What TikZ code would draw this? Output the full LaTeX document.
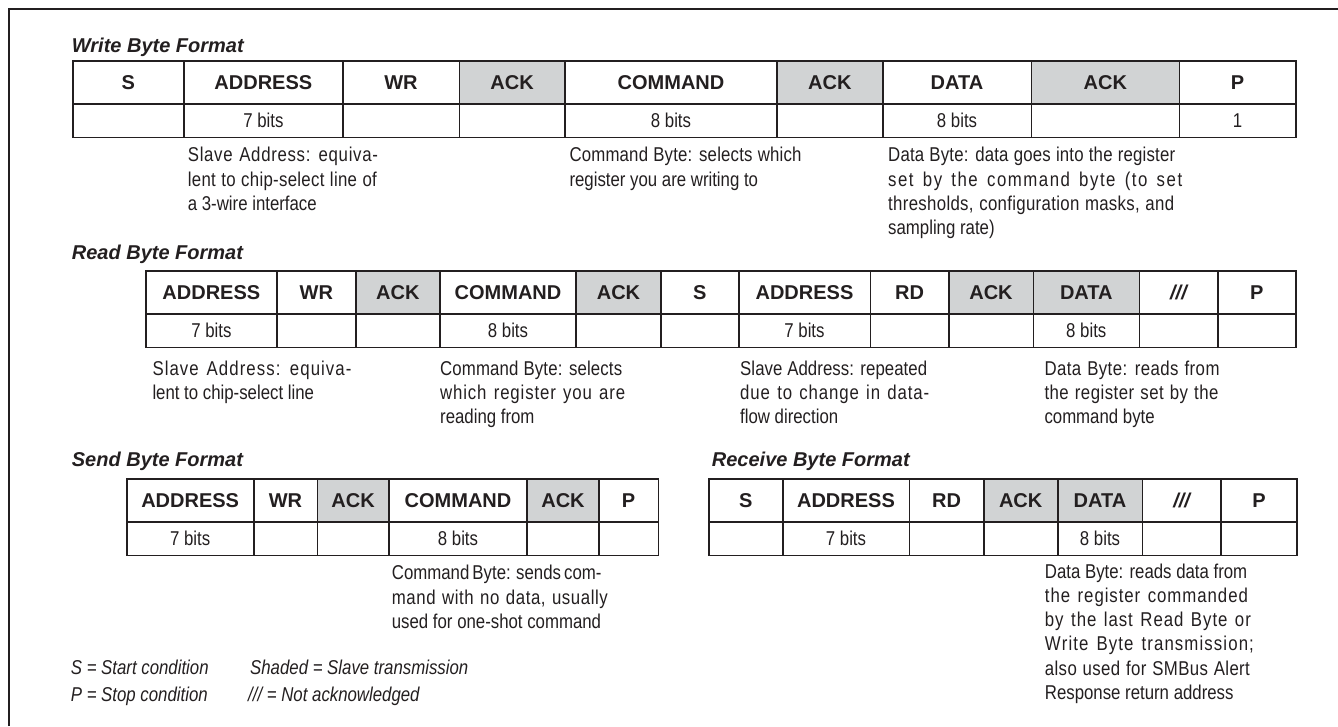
\documentclass[tikz,border=0pt]{standalone}
\usepackage{fontspec}
\setmainfont{Liberation Sans}
\newfontfamily\narfam[FakeStretch=0.84]{Liberation Sans}
\newcommand\narfont{\narfam\fontsize{20}{24.3}\selectfont}
\newcommand\hdrfont{\bfseries\fontsize{20}{24}\selectfont}
\newcommand\ttlfont{\bfseries\itshape\fontsize{20}{24}\selectfont}
\newcommand\lgfont{\narfam\itshape\fontsize{20}{24}\selectfont}
\newcommand\nack{\itshape ///}
\ExplSyntaxOn
\NewDocumentCommand\jl{mm}{
  \mode_leave_vertical:
  \hbox_to_wd:nn {#1pt} {
    \str_map_inline:nn {#2} {
      \str_if_eq:nnTF {##1} {~}
        { \c_space_tl \hskip 0pt plus 2fil \relax }
        { ##1 \hskip 0pt plus 1fil \relax }
    }
    \unskip
  }
}
\ExplSyntaxOff
\definecolor{ink}{HTML}{231F20}
\definecolor{shade}{HTML}{D1D3D4}
\newcommand\mkrow[4]{%
  \foreach \xa/\xb/\txt/\fl/\nm in {#4} {
    \node[#3, fill=\fl, minimum width={(\xb-\xa)*1pt}, minimum height={(#2-#1)*1pt}]
      (\nm) at ({(\xa+\xb)/2},{(#1+#2)/2}) {\txt};
  }}
\tikzset{
  hcell/.style={draw=ink, line width=1.6pt, inner sep=0pt, text=ink, font=\hdrfont, text height=14.5pt, text depth=0pt},
  bcell/.style={draw=ink, line width=1.6pt, inner sep=0pt, text=ink, font=\narfont, text height=14pt, text depth=0pt},
  ttl/.style={anchor=base west, inner sep=0pt, text=ink, font=\ttlfont},
  note/.style={anchor=base west, inner sep=0pt, text=ink, font=\narfont},
  lgd/.style={anchor=base west, inner sep=0pt, text=ink, font=\lgfont},
}
\begin{document}
\begin{tikzpicture}[x=1pt,y=-1pt]
\useasboundingbox (0,0) rectangle (1338,726);
\fill[white] (0,0) rectangle (1338,726);
\draw[ink, line width=2pt] (8.7,726) -- (8.7,8.7) -- (1338,8.7);

% ---------- Write Byte Format
\node[ttl] (tw) at (71.7,52.7) {Write Byte Format};
\mkrow{61}{104}{hcell}{72.7/184/S/white/w1, 184/342.7/ADDRESS/white/w2, 342.7/459.3/WR/white/w3,
  459.3/565/ACK/shade/w4, 565/777/COMMAND/white/w5, 777/882.7/ACK/shade/w6,
  882.7/1031.3/DATA/white/w7, 1031.3/1179.3/ACK/shade/w8, 1179.3/1296/P/white/w9}
\mkrow{104}{137.3}{bcell}{72.7/184//white/wb1, 184/342.7/7 bits/white/wb2, 342.7/459.3//white/wb3,
  459.3/565//white/wb4, 565/777/8 bits/white/wb5, 777/882.7//white/wb6,
  882.7/1031.3/8 bits/white/wb7, 1031.3/1179.3//white/wb8, 1179.3/1296/1/white/wb9}
\node[note] (wn1) at (187.7,161.7) {\parbox[t]{190pt}{\jl{190}{Slave Address: equiva-}\\\jl{189}{lent to chip-select line of}\\a 3-wire interface}};
\node[note] (wn2) at (569.3,161.7) {\parbox[t]{232pt}{\jl{232}{Command Byte: selects which}\\register you are writing to}};
\node[note] (wn3) at (888,161.7) {\parbox[t]{294pt}{\jl{287}{Data Byte: data goes into the register}\\\jl{294}{set by the command byte (to set}\\\jl{286}{thresholds, configuration masks, and}\\sampling rate)}};

% ---------- Read Byte Format
\node[ttl] (tr) at (71.7,259.3) {Read Byte Format};
\mkrow{271}{314}{hcell}{145.7/277/ADDRESS/white/r1, 277/355.7/WR/white/r2, 355.7/440/ACK/shade/r3,
  440/576/COMMAND/white/r4, 576/661/ACK/shade/r5, 661/738.7/S/white/r6,
  738.7/870.3/ADDRESS/white/r7, 870.3/948.7/RD/white/r8, 948.7/1033.3/ACK/shade/r9,
  1033.3/1139.3/DATA/shade/r10, 1139.3/1217.7/\nack/white/r11, 1217.7/1296/P/white/r12}
\mkrow{314}{347.3}{bcell}{145.7/277/7 bits/white/rb1, 277/355.7//white/rb2, 355.7/440//white/rb3,
  440/576/8 bits/white/rb4, 576/661//white/rb5, 661/738.7//white/rb6,
  738.7/870.3/7 bits/white/rb7, 870.3/948.7//white/rb8, 948.7/1033.3//white/rb9,
  1033.3/1139.3/8 bits/white/rb10, 1139.3/1217.7//white/rb11, 1217.7/1296//white/rb12}
\node[note] (rn1) at (152.3,375) {\parbox[t]{199pt}{\jl{199}{Slave Address: equiva-}\\lent to chip-select line}};
\node[note] (rn2) at (440,375) {\parbox[t]{185pt}{\jl{182}{Command Byte: selects}\\\jl{185}{which register you are}\\reading from}};
\node[note] (rn3) at (740,375) {\parbox[t]{189pt}{\jl{187}{Slave Address: repeated}\\\jl{189}{due to change in data-}\\flow direction}};
\node[note] (rn4) at (1044.3,375) {\parbox[t]{175pt}{\jl{175}{Data Byte: reads from}\\\jl{174}{the register set by the}\\command byte}};

% ---------- Send Byte Format
\node[ttl] (ts) at (71.7,466.3) {Send Byte Format};
\mkrow{478.7}{521.7}{hcell}{126.7/253.7/ADDRESS/white/s1, 253.7/317.3/WR/white/s2, 317.3/389/ACK/shade/s3,
  389/527/COMMAND/white/s4, 527/599/ACK/shade/s5, 599/658.3/P/white/s6}
\mkrow{521.7}{555.3}{bcell}{126.7/253.7/7 bits/white/sb1, 253.7/317.3//white/sb2, 317.3/389//white/sb3,
  389/527/8 bits/white/sb4, 527/599//white/sb5, 599/658.3//white/sb6}
\node[note] (sn1) at (391.7,579.7) {\parbox[t]{216pt}{\jl{208}{Command Byte: sends com-}\\\jl{216}{mand with no data, usually}\\used for one-shot command}};

% ---------- Receive Byte Format
\node[ttl] (tc) at (711.7,466.3) {Receive Byte Format};
\mkrow{478.7}{521.7}{hcell}{708.7/782.7/S/white/c1, 782.7/909.3/ADDRESS/white/c2, 909.3/983.7/RD/white/c3,
  983.7/1057.7/ACK/shade/c4, 1057.7/1142.3/DATA/shade/c5, 1142.3/1221/\nack/white/c6, 1221/1297/P/white/c7}
\mkrow{521.7}{555.3}{bcell}{708.7/782.7//white/cb1, 782.7/909.3/7 bits/white/cb2, 909.3/983.7//white/cb3,
  983.7/1057.7//white/cb4, 1057.7/1142.3/8 bits/white/cb5, 1142.3/1221//white/cb6, 1221/1297//white/cb7}
\node[note] (cn1) at (1044.7,578) {\parbox[t]{209pt}{Data Byte: reads data from\\\jl{203}{the register commanded}\\\jl{206}{by the last Read Byte or}\\\jl{209}{Write Byte transmission;}\\\jl{205}{also used for SMBus Alert}\\Response return address}};

% ---------- Legend
\node[lgd] (lg1) at (70.7,674.7) {S = Start condition};
\node[lgd] (lg2) at (70.7,701) {P = Stop condition};
\node[lgd] (lg3) at (250,674.7) {Shaded = Slave transmission};
\node[lgd] (lg4) at (248,701) {/// = Not acknowledged};
\end{tikzpicture}
\end{document}
